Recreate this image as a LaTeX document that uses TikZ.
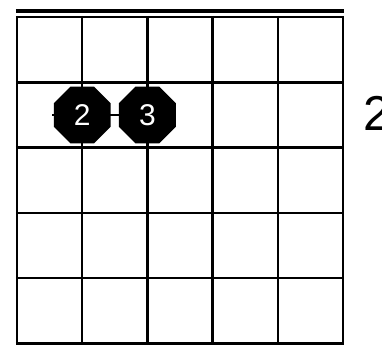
\documentclass[tikz,border=0pt]{standalone}
\usepackage{fontspec}
\setmainfont{Liberation Sans}
\usetikzlibrary{shapes.geometric}

\tikzset{
    finger/.style={regular polygon, regular polygon sides=8, minimum size=61.5pt,
        inner sep=0pt, fill=black, text=white, font=\fontsize{30}{30}\selectfont},
    fret/.style={line width=2.4pt},
}

\begin{document}
\begin{tikzpicture}[x=1pt, y=-1pt]
    \clip (0,0) rectangle (382,345);
    \fill[white] (0,0) rectangle (382,345);
    % Nut
    \draw[line width=4.5pt] (15.8,11) -- (344.2,11);
    % Strings
    \foreach \x in {17,82.2,147.4,212.6,277.8,343}
        \draw[fret] (\x,16) -- (\x,345);
    % Frets
    \foreach \y in {17,82.3,147.6,212.9,278.2,343.5}
        \draw[fret] (15.8,\y) -- (344.2,\y);
    % Barre
    \coordinate (barL) at (52,115);
    \coordinate (barR) at (176,115);
    \draw[line width=1.5pt] (barL) -- (barR);
    % Fingers
    \node[finger] (f2) at (82.2,115) {2};
    \node[finger] (f3) at (147.4,115) {3};
    % Fret number
    \node[anchor=west, inner sep=0pt, font=\fontsize{49}{49}\selectfont] (fretno) at (363,113) {2};
\end{tikzpicture}
\end{document}
